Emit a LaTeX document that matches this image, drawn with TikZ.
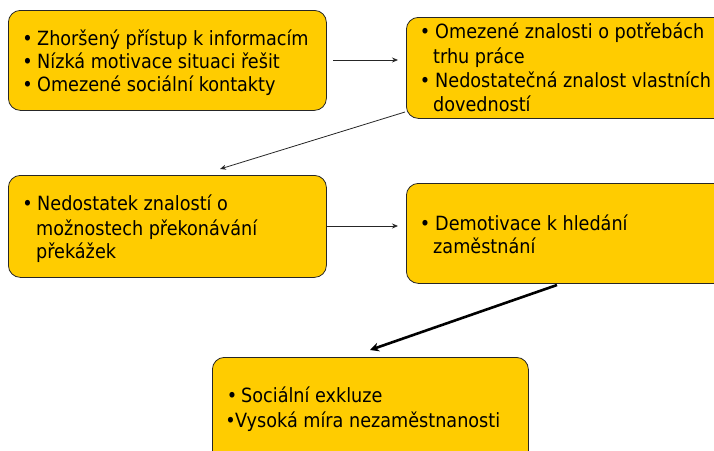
\documentclass[tikz,border=0pt]{standalone}
\usepackage{fontspec}
\setmainfont{DejaVu Sans Condensed}
\usetikzlibrary{arrows.meta}
\definecolor{gold}{HTML}{FFCC00}
\begin{document}
\begin{tikzpicture}[x=1pt,y=-1pt,
  box/.style={draw=black!85, line width=0.8pt, fill=gold, rounded corners=12pt, inner sep=0pt, anchor=north west},
  ln/.style={anchor=base west, inner sep=0pt, font=\fontsize{19.6}{22}\selectfont},
  bul/.style={anchor=base, inner sep=0pt, font=\fontsize{19.6}{22}\selectfont},
  thin arrow/.style={draw=black!85, line width=0.8pt, -{Stealth[length=6pt,width=5pt]}},
  thick arrow/.style={draw=black, line width=2.6pt, -{Stealth[length=9pt,width=9pt]}}]
\useasboundingbox (0,0) rectangle (714,450);
\clip (0,0) rectangle (714,450);
% boxes
\node[box, minimum width=318pt, minimum height=100pt] (b1) at (8,10) {};
\node[box, minimum width=320pt, minimum height=101pt] (b2) at (406,17) {};
\node[box, minimum width=318pt, minimum height=102pt] (b3) at (8,175) {};
\node[box, minimum width=320pt, minimum height=100pt] (b4) at (406,183) {};
\node[box, minimum width=316pt, minimum height=110pt] (b5) at (212,357) {};
% box 1 text
\node[bul] (p11) at (27.5,45) {•};
\node[ln] (l11) at (37,45) {Zhoršený přístup k informacím};
\node[bul] (p12) at (27.5,68) {•};
\node[ln] (l12) at (37,68) {Nízká motivace situaci řešit};
\node[bul] (p13) at (27.5,91) {•};
\node[ln] (l13) at (37,91) {Omezené sociální kontakty};
% box 2 text
\node[bul] (p21) at (425,38) {•};
\node[ln] (l21) at (435,38) {Omezené znalosti o potřebách};
\node[ln] (l22) at (433,63) {trhu práce};
\node[bul] (p23) at (425,87) {•};
\node[ln] (l23) at (435,87) {Nedostatečná znalost vlastních};
\node[ln] (l24) at (433,111) {dovedností};
% box 3 text
\node[bul] (p31) at (27.5,210) {•};
\node[ln] (l31) at (37,210) {Nedostatek znalostí o};
\node[ln] (l32) at (36,235) {možnostech překonávání};
\node[ln] (l33) at (36,258) {překážek};
% box 4 text
\node[bul] (p41) at (425,230) {•};
\node[ln] (l41) at (435,230) {Demotivace k hledání};
\node[ln] (l42) at (433,253) {zaměstnání};
% box 5 text
\node[bul] (p51) at (232,402) {•};
\node[ln] (l51) at (241,402) {Sociální exkluze};
\node[bul] (p52) at (230.5,427) {•};
\node[ln] (l52) at (235,427) {Vysoká míra nezaměstnanosti};
% connector ends
\coordinate (a1s) at (333,60);
\coordinate (a1e) at (398,60);
\coordinate (a2s) at (405,112);
\coordinate (a2e) at (220,169);
\coordinate (a3s) at (327,226);
\coordinate (a3e) at (398,226);
\coordinate (a4s) at (557,285);
\coordinate (a4e) at (370,350);
\draw[thin arrow] (a1s) -- (a1e);
\draw[thin arrow] (a2s) -- (a2e);
\draw[thin arrow] (a3s) -- (a3e);
\draw[thick arrow] (a4s) -- (a4e);
\end{tikzpicture}
\end{document}
